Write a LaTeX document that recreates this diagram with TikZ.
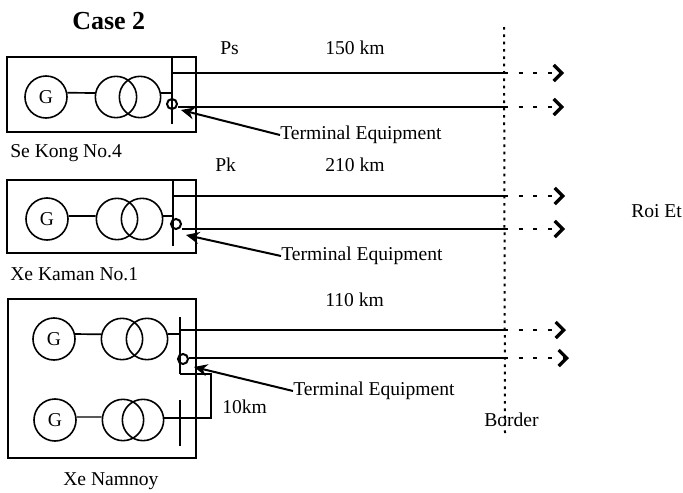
\documentclass[tikz,border=0pt]{standalone}
\usepackage{fontspec}
\setmainfont{Liberation Serif}
\usepackage{tikz}
\usetikzlibrary{calc, arrows, arrows.meta, positioning}

\begin{document}
\begin{tikzpicture}[%
    x=0.75pt, y=-0.75pt,
    >=stealth,              % arrow style
    every node/.style={font=\fontsize{14.7}{16}\selectfont, inner sep=0pt},
    gennode/.style={draw, circle, line width=1.2pt, minimum size=31.5pt},
    coilnode/.style={draw, circle, line width=1.2pt, minimum size=31pt},
    tapnode/.style={draw, circle, line width=1.5pt, minimum size=7.5pt},
    labelnode/.style={anchor=west},
    framebox/.style={line width=1.6pt},
    link/.style={line width=1.3pt},
    feeder/.style={line width=1.3pt},
    beyond/.style={line width=2pt, dash pattern=on 3pt off 8pt, dash phase=3pt, -{Straight Barb[length=6pt, width=12pt, line width=2.4pt]}},
    pointer/.style={line width=1.5pt, -{Stealth[length=10pt, width=9pt]}},
    ]

\useasboundingbox (0,0) rectangle (683,493);

%==================================================
% Coordinates
%==================================================

\coordinate (B1) at (7,57);
\coordinate (B2) at (7,180);
\coordinate (B3) at (8,299);

%==================================================
% Station boxes
%==================================================
\draw[framebox] (B1) rectangle ($(B1)+(189,75)$);
\draw[framebox] (B2) rectangle ($(B2)+(189,73)$);
\draw[framebox] (B3) rectangle ($(B3)+(188,159)$);

%==================================================
% Generators and transformers
%==================================================
% Se Kong No.4
\node[gennode]  (g1)  at (46,97)   {G};
\node[coilnode] (t1a) at (116,97)  {};
\node[coilnode] (t1b) at (140,97)  {};

% Xe Kaman No.1
\node[gennode]  (g2)  at (47,219)  {G};
\node[coilnode] (t2a) at (117,219) {};
\node[coilnode] (t2b) at (142,219) {};

% Xe Namnoy
\node[gennode]  (g3)  at (54,339)  {G};
\node[coilnode] (t3a) at (122,339) {};
\node[coilnode] (t3b) at (147,339) {};
\node[gennode]  (g4)  at (55,420)  {G};
\node[coilnode] (t4a) at (123,420) {};
\node[coilnode] (t4b) at (143,420) {};

%==================================================
% Bus bars and terminals
%==================================================
\coordinate (bus1top) at (172,57);
\coordinate (bus1end) at (172,124);
\coordinate (bus2top) at (173,180);
\coordinate (bus2end) at (173,246);
\coordinate (bus3top) at (180,317);
\coordinate (bus3end) at (180,374);
\coordinate (bus4top) at (180,400);
\coordinate (bus4end) at (180,446);

\draw[link] (bus1top) -- (bus1end);
\draw[link] (bus2top) -- (bus2end);
\draw[link] (bus3top) -- (bus3end);
\draw[link] (bus4top) -- (bus4end);

\node[tapnode] (tap1) at (172,104) {};
\node[tapnode] (tap2) at (176,224) {};
\node[tapnode] (tap3) at (183,359) {};

%==================================================
% Links
%==================================================
\draw[link] (g1.11) -- (t1a.169);
\draw[link] (t1b.11) -- (t1b.11 -| bus1top);
\draw[link] (g2.8) -- (t2a.172);
\draw[link] (t2b.8) -- (t2b.8 -| bus2top);
\draw[link] (g3.13) -- (t3a.167);
\draw[link] (t3b.13) -- (t3b.13 -| bus3top);
\draw[line width=0.9pt] (g4.8) -- (t4a.172);

% 10km tie
\coordinate (tieA) at (211,374);
\coordinate (tieB) at (211,418);
\draw[line width=0.9pt] (bus3end) -- (tieA) -- (tieB) -- (t4b.east |- tieB);

%==================================================
% Feeders
%==================================================
\coordinate (bd1) at (508,73);
\coordinate (bd2) at (508,107);
\coordinate (bd3) at (508,196);
\coordinate (bd4) at (508,229);
\coordinate (bd5) at (508,330);
\coordinate (bd6) at (508,358);

\coordinate (re1) at (564,73);
\coordinate (re2) at (564,107);
\coordinate (re3) at (565,196);
\coordinate (re4) at (565,229);
\coordinate (re5) at (566,330);
\coordinate (re6) at (569,358);

\draw[feeder, line width=1.6pt] (bd1 -| bus1top) -- (bd1);
\draw[feeder] (tap1.east |- bd2) -- (bd2);
\draw[feeder, line width=1.6pt] (bd3 -| bus2top) -- (bd3);
\draw[feeder] (tap2.east |- bd4) -- (bd4);
\draw[feeder] (bd5 -| bus3top) -- (bd5);
\draw[feeder] (tap3.east |- bd6) -- (bd6);

\draw[beyond] (bd1) -- (re1);
\draw[beyond] (bd2) -- (re2);
\draw[beyond] (bd3) -- (re3);
\draw[beyond] (bd4) -- (re4);
\draw[beyond] (bd5) -- (re5);
\draw[beyond] (bd6) -- (re6);

% Border
\coordinate (bordertop) at (504,27);
\coordinate (borderend) at (505,433);
\draw[line width=1.5pt, dash pattern=on 2pt off 3.5pt] (bordertop) -- (borderend);

%==================================================
% Labels
%==================================================
\node[font=\fontsize{19.5}{22}\selectfont\bfseries, labelnode] (title) at (72,21) {Case 2};

\node[labelnode] (ps) at (220,48)  {Ps};
\node[labelnode] (pk) at (215,165) {Pk};
\node[labelnode] (d1) at (325,48)  {150 km};
\node[labelnode] (d2) at (325,165) {210 km};
\node[labelnode] (d3) at (325,300) {110 km};
\node[labelnode] (d4) at (222,407) {10km};

\node[labelnode] (s1) at (10,153) {Se Kong No.4};
\node[labelnode] (s2) at (10,274) {Xe Kaman No.1};
\node[labelnode] (s3) at (63,481) {Xe Namnoy};

\node[labelnode] (roi) at (631,211) {Roi Et};
\node[labelnode] (bl)  at (484,420) {Border};

\node[labelnode] (te1) at (280,135) {Terminal Equipment};
\node[labelnode] (te2) at (281,256) {Terminal Equipment};
\node[labelnode] (te3) at (293,391) {Terminal Equipment};

%==================================================
% Arrows
%==================================================
\coordinate (tp1) at (181,110);
\coordinate (tp2) at (186,235);
\coordinate (tp3) at (194,367);

\draw[pointer] (te1.west) -- (tp1);
\draw[pointer] (te2.west) -- (tp2);
\draw[pointer] (te3.west) -- (tp3);

%==================================================
\end{tikzpicture}
\end{document}
